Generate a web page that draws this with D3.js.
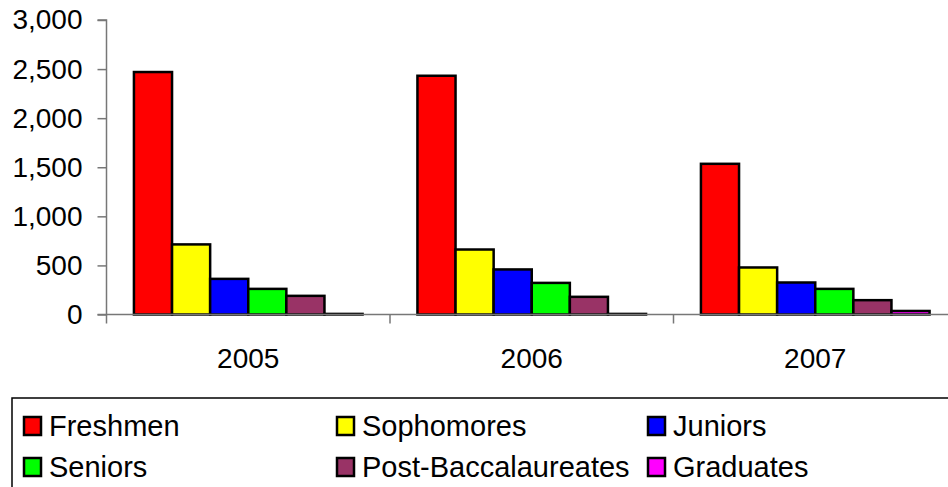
<!DOCTYPE html>
<html>
<head>
<meta charset="utf-8">
<script src="https://cdn.jsdelivr.net/npm/d3@7"></script>
<style>
  html, body { margin: 0; padding: 0; background: #fff; }
  svg { display: block; font-family: "Liberation Sans", Arial, sans-serif; }
</style>
</head>
<body>
<svg id="chart" width="948" height="487"></svg>
<script>
// Enrollment by class level, per year
const years = ["2005", "2006", "2007"];
const levels = ["Freshmen", "Sophomores", "Juniors", "Seniors", "Post-Baccalaureates", "Graduates"];
const colors = ["#FF0000", "#FFFF00", "#0000FF", "#00FF00", "#993366", "#FF00FF"];
const freshmen = [2470, 2432, 1535];
const sophomores = [714, 662, 479];
const juniors = [363, 459, 326];
const seniors = [261, 322, 261];
const postBacc = [190, 180, 146];
const graduates = [6, 6, 36];
const yTicks = [0, 500, 1000, 1500, 2000, 2500, 3000];

const seriesValues = [freshmen, sophomores, juniors, seniors, postBacc, graduates];

const svg = d3.select("#chart");
const fontSize = 28;

const x0 = d3.scaleBand().domain(years).range([106.5, 957]).paddingInner(0).paddingOuter(0);
const x1 = d3.scaleBand().domain(levels).range([0, x0.bandwidth()]).paddingInner(0).paddingOuter(0.72);
const y = d3.scaleLinear().domain([0, 3000]).range([314.5, 20]);

// bars
const groups = svg.append("g").selectAll("g")
  .data(years)
  .join("g")
  .attr("transform", d => `translate(${x0(d)},0)`);

groups.selectAll("rect")
  .data((yr, i) => levels.map((lv, j) => ({ level: lv, value: seriesValues[j][i], color: colors[j] })))
  .join("rect")
  .attr("x", d => x1(d.level))
  .attr("y", d => y(d.value))
  .attr("width", x1.bandwidth())
  .attr("height", d => y(0) - y(d.value))
  .attr("fill", d => d.color)
  .attr("stroke", "#000")
  .attr("stroke-width", 2.5);

// y axis
const yAxis = d3.axisLeft(y)
  .tickValues(yTicks)
  .tickSize(9)
  .tickPadding(15)
  .tickFormat(d3.format(","));
const gy = svg.append("g").attr("transform", "translate(106.5,0)").call(yAxis);
gy.select(".domain").attr("stroke", "#777").attr("stroke-width", 1.5).attr("d", `M-9,${y(3000)}H0V${y(0)}H-9`);
gy.selectAll(".tick line").attr("stroke", "#777").attr("stroke-width", 1.5);
gy.selectAll(".tick text").attr("font-size", fontSize).attr("fill", "#000")
  .attr("font-family", "Liberation Sans, Arial, sans-serif");

// x axis baseline and category separators
const gx = svg.append("g");
gx.append("line")
  .attr("x1", 106.5).attr("x2", 948)
  .attr("y1", y(0)).attr("y2", y(0))
  .attr("stroke", "#777").attr("stroke-width", 1.5);
gx.selectAll("line.sep")
  .data(years)
  .join("line")
  .attr("class", "sep")
  .attr("x1", d => x0(d)).attr("x2", d => x0(d))
  .attr("y1", y(0)).attr("y2", y(0) + 9)
  .attr("stroke", "#777").attr("stroke-width", 1.5);
gx.selectAll("text")
  .data(years)
  .join("text")
  .attr("x", d => x0(d) + x0.bandwidth() / 2)
  .attr("y", 368)
  .attr("text-anchor", "middle")
  .attr("font-size", fontSize)
  .attr("fill", "#000")
  .text(d => d);

// legend
const legend = svg.append("g");
legend.append("rect")
  .attr("x", 12).attr("y", 398)
  .attr("width", 960).attr("height", 120)
  .attr("fill", "none").attr("stroke", "#000").attr("stroke-width", 1.5);

const colX = [24, 337, 648];
const rowY = [426, 467];
const items = legend.selectAll("g.item")
  .data(levels)
  .join("g")
  .attr("class", "item")
  .attr("transform", (d, i) => `translate(${colX[i % 3]},${rowY[Math.floor(i / 3)]})`);
items.append("rect")
  .attr("x", 0).attr("y", -9)
  .attr("width", 17).attr("height", 18)
  .attr("fill", (d, i) => colors[i])
  .attr("stroke", "#000").attr("stroke-width", 2.5);
items.append("text")
  .attr("x", 25).attr("y", 0)
  .attr("dy", "0.36em")
  .attr("font-size", 29)
  .attr("fill", "#000")
  .text(d => d);
</script>
</body>
</html>
